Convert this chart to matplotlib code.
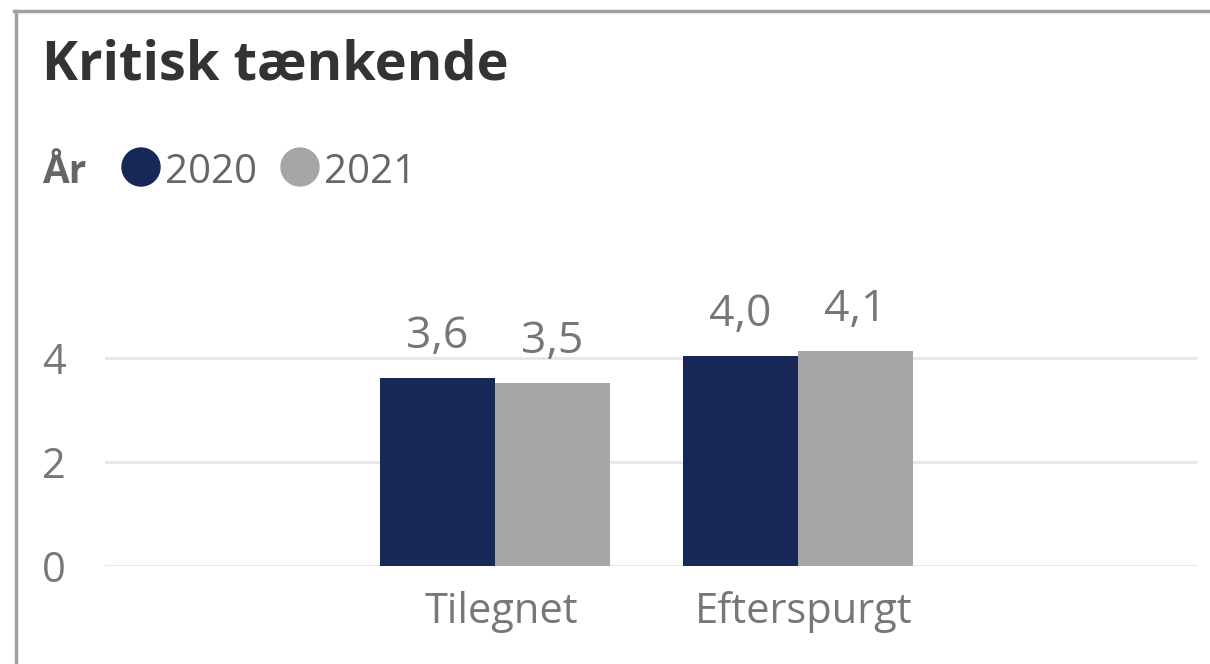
import matplotlib
matplotlib.use("Agg")
import matplotlib.pyplot as plt
import numpy as np
from matplotlib.lines import Line2D
from matplotlib.patches import Circle

# Daten
kategorien = ["Tilegnet", "Efterspurgt"]
aar = ["2020", "2021"]
vaerdier_2020 = [3.62, 4.03]
vaerdier_2021 = [3.52, 4.13]
y_ticks = [0, 2, 4]

farver = ["#172858", "#A6A6A6"]
tekst_graa = "#777777"

plt.rcParams["font.family"] = ["Open Sans", "DejaVu Sans"]

W, H = 1210, 664
fig = plt.figure(figsize=(W / 100, H / 100), dpi=100)


def px(x, y):
    # Pixel (von oben links) -> Figurkoordinaten
    return x / W, 1 - y / H


# Achse: links 105px, rechts 1198px, y=0 bei 566px
ax = fig.add_axes([105 / W, 1 - 566 / H, (1198 - 105) / W, 260 / H])

x = np.arange(len(kategorien))
bredde = 0.38
serier = [vaerdier_2020, vaerdier_2021]
for i, (werte, farbe) in enumerate(zip(serier, farver)):
    pos = x + (i - 0.5) * bredde
    bars = ax.bar(pos, werte, width=bredde, color=farbe, zorder=3)
    for b, v in zip(bars, werte):
        ax.text(b.get_x() + b.get_width() / 2, v + 0.58, f"{v:.1f}".replace(".", ","),
                ha="center", va="baseline", fontsize=32, color=tekst_graa, clip_on=False)

ax.set_xlim(-1.287, 2.32)
ax.set_ylim(0, 5)
ax.set_yticks(y_ticks)
ax.set_yticklabels([str(t) for t in y_ticks])
ax.set_xticks(x + 0.02)
ax.set_xticklabels(kategorien)
ax.tick_params(axis="both", length=0, colors=tekst_graa, labelsize=30)
ax.tick_params(axis="y", pad=28)
ax.tick_params(axis="x", pad=18)
for s in ax.spines.values():
    s.set_visible(False)
ax.yaxis.grid(True, color="#E8E8E8", linewidth=2.2, zorder=0)
ax.set_axisbelow(True)

# Titel
fig.text(*px(42, 80), "Kritisk tænkende", fontsize=39, fontweight="bold",
         color="#333333", va="baseline", ha="left")

# Legende
fig.text(*px(42, 183), "År", fontsize=28, fontweight="bold", color="#666666",
         va="baseline", ha="left")
legende_x = [141, 300]
for name, farbe, lx in zip(aar, farver, legende_x):
    cx, cy = lx / 100, (H - 167) / 100
    fig.add_artist(Circle((cx, cy), 0.19, transform=fig.dpi_scale_trans,
                          color=farbe))
    fig.text(*px(lx + 24, 183), name, fontsize=29, color="#666666",
             va="baseline", ha="left")

# Rahmen oben und links
fig.add_artist(Line2D([14 / W, 1], [1 - 11 / H, 1 - 11 / H], color="#A0A0A0",
                      linewidth=2.5, transform=fig.transFigure))
fig.add_artist(Line2D([16 / W, 16 / W], [0, 1 - 11 / H], color="#A0A0A0",
                      linewidth=2.5, transform=fig.transFigure))

fig.savefig("out.png", dpi=100, facecolor="white")
